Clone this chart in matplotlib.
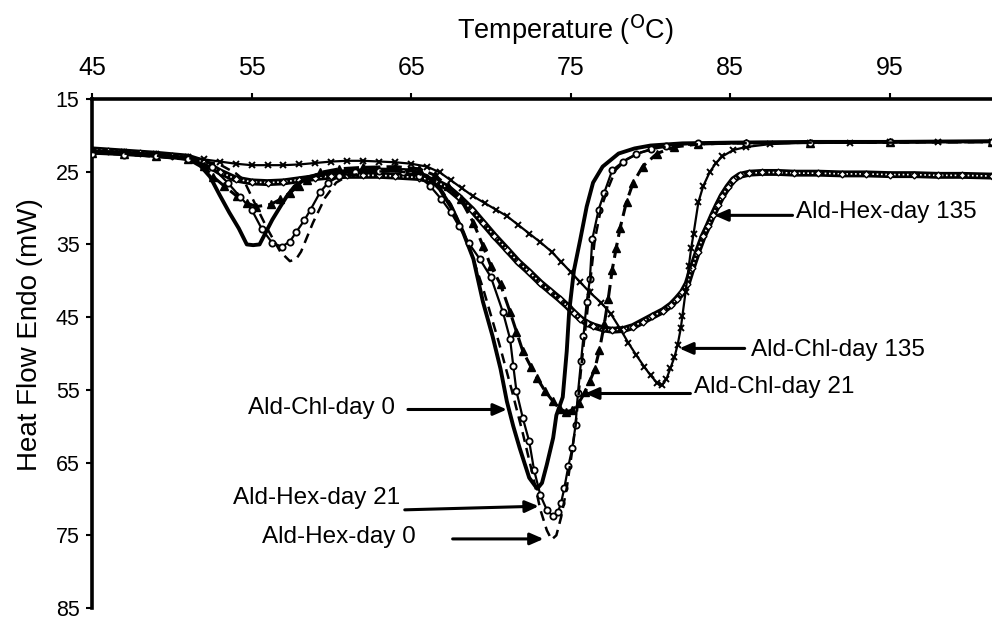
import matplotlib
matplotlib.use("Agg")
import matplotlib.pyplot as plt

plt.rcParams['font.family'] = ['Liberation Sans', 'DejaVu Sans']

# ---------------- data ----------------
chl0_x = [45, 47, 49, 51, 51.8, 52.4, 53.0, 53.6, 54.2, 54.7, 55.1, 55.5, 55.9, 56.3, 56.8, 57.2, 57.7,
          58.5, 59.5, 61, 63, 65, 66, 66.8, 67.6, 68.25, 68.9, 69.5, 70.1, 70.6, 71.0, 71.4, 71.8, 72.4,
          72.9, 73.2, 73.5, 73.9, 74.1, 74.5, 74.75, 74.9, 75.2, 75.6, 76.0, 76.4, 77.0, 78.0, 79.0, 80,
          82, 85, 90, 95, 101.4]
chl0_y = [22.2, 22.4, 22.7, 23.2, 24.2, 25.7, 28.2, 30.6, 32.8, 35.0, 35.1, 35.0, 33.3, 31.6, 29.8, 28.4, 27.0,
          25.8, 25.2, 24.9, 24.7, 24.8, 25.6, 27.4, 30.2, 33.3, 37.0, 42.9, 47.6, 52.1, 56.6, 60.0, 63.0, 67.1,
          68.6, 67.8, 65.3, 61.6, 58.5, 56.0, 49.7, 44.3, 38.6, 34.3, 29.8, 26.5, 24.3, 22.5, 21.8, 21.4,
          21.1, 21.0, 20.9, 20.9, 20.8]

hex21_x = [45, 47, 49, 51, 52.5, 53.5, 54.3, 55.0, 55.65, 56.3, 56.9, 57.4, 57.8, 58.3, 58.7, 59.3, 59.8,
           60.5, 61.5, 63, 64.5, 65.5, 66.2, 66.9, 67.5, 68.0, 68.6, 69.3, 70.0, 70.75, 71.2, 71.4, 71.6,
           72.0, 72.4, 72.7, 73.1, 73.5, 73.9, 74.2, 74.4, 74.6, 74.85, 75.1, 75.3, 75.45, 75.65, 75.8,
           76.0, 76.2, 76.35, 76.75, 77.1, 77.6, 78.3, 79.1, 80, 81, 83, 86, 90, 95, 101.4]
hex21_y = [22.5, 22.7, 22.9, 23.2, 24.3, 26.5, 28.5, 30.2, 32.9, 34.8, 35.3, 34.6, 33.3, 31.7, 30.2, 27.8, 26.5,
           25.6, 25.1, 24.9, 25.0, 25.6, 27.0, 28.8, 30.6, 32.5, 34.8, 37.0, 39.5, 44.3, 48.0, 51.7, 55.2,
           58.9, 62.1, 66.0, 69.5, 71.5, 72.4, 71.8, 70.5, 68.5, 65.5, 63.0, 59.9, 55.5, 51.0, 47.6,
           42.9, 39.8, 34.3, 30.2, 27.9, 24.8, 23.6, 22.6, 21.9, 21.4, 21.1, 21.0, 21.0, 20.9, 20.9]

hex0_x = [45, 47, 49, 51, 53, 54.0, 54.5, 55.3, 56.0, 56.8, 57.4, 57.8, 58.1, 58.85, 59.6, 60.3, 61, 62.5,
          64, 65.5, 66.5, 67.5, 68.5, 69.5, 70.5, 71.3, 72.0, 72.6, 73.1, 73.5, 73.8, 74.1, 74.4, 74.75,
          75.05, 75.3, 75.5, 75.7, 75.9, 76.1, 76.3, 76.5, 76.9, 77.3, 77.8, 78.5, 79.3, 80.5, 82, 85, 90,
          95, 101.4]
hex0_y = [22.3, 22.5, 22.8, 23.1, 24.0, 25.2, 26.1, 29.8, 32.9, 36.0, 37.3, 37.0, 36.0, 32.0, 28.6, 26.5, 25.6, 25.0,
          24.9, 25.3, 26.2, 29.5, 34.5, 41.0, 48.5, 55.0, 61.0, 66.5, 71.5, 74.3, 75.6, 75.0, 72.5, 68.5,
          64.0, 60.0, 55.5, 51.0, 47.0, 43.0, 38.5, 34.5, 30.0, 27.5, 24.8, 23.3, 22.4, 21.7, 21.3, 21.1, 21.0,
          21.0, 20.9]

chl21_x = [45, 47, 49, 51, 52, 52.6, 53.3, 54.1, 54.7, 55.3, 56.2, 56.8, 57.4, 58.0, 58.5, 59.3, 60.5, 62,
           64, 65.5, 66.5, 67.3, 68.1, 68.9, 69.5, 70.0, 70.6, 71.2, 71.6, 72.0, 72.5, 72.9, 73.4, 73.9,
           74.3, 74.7, 75.1, 75.5, 75.9, 76.2, 76.5, 76.8, 77.1, 77.35, 77.6, 77.85, 78.1, 78.5, 78.9,
           79.5, 80.4, 81.5, 83, 86, 90, 95, 101.4]
chl21_y = [22.4, 22.6, 22.9, 23.3, 24.2, 25.7, 27.0, 28.4, 29.3, 29.8, 29.5, 28.8, 27.9, 26.9, 26.1, 25.1, 24.6, 24.4,
           24.3, 24.6, 25.5, 27.0, 28.8, 32.0, 35.2, 38.0, 40.5, 44.3, 47.0, 49.7, 51.8, 53.4, 55.2, 56.6,
           57.6, 58.0, 57.8, 56.8, 55.3, 53.8, 52.2, 49.5, 46.0, 42.5, 38.5, 35.5, 32.7, 29.1, 26.6,
           24.3, 22.5, 21.6, 21.2, 21.0, 21.0, 20.9, 20.9]

chl135_x = [45, 47, 49, 51, 52, 53, 54, 55, 56, 57, 58, 59, 60, 61, 62, 63, 64, 65, 66, 66.8, 67.5, 68.2,
            68.9, 69.6, 70.3, 71.0, 71.7, 72.4, 73.1, 73.8, 74.4, 75.0, 75.6, 76.2, 76.9, 77.5, 78.1, 78.6,
            79.1, 79.6, 80.0, 80.4, 80.7, 81.0, 81.25, 81.5, 81.7, 81.9, 82.0, 82.2, 82.4, 82.55, 82.7,
            83.0, 83.3, 83.7, 84.1, 84.5, 85.2, 86, 87.5, 90, 92.5, 95, 98, 101.4]
chl135_y = [22.1, 22.3, 22.6, 23.0, 23.3, 23.6, 23.9, 24.1, 24.1, 24.1, 24.0, 23.8, 23.6, 23.5, 23.5, 23.6, 23.7, 23.9, 24.3, 25.1, 26.2, 27.3,
            28.4, 29.3, 30.2, 31.1, 32.3, 33.5, 34.7, 36.0, 37.4, 38.8, 40.2, 41.6, 43.0, 44.5, 46.6, 48.5,
            50.2, 51.8, 53.0, 54.0, 54.4, 53.5, 52.0, 50.5, 48.8, 46.5, 44.8, 41.5, 38.0, 35.5, 33.5,
            29.2, 27.0, 25.1, 23.8, 22.9, 22.0, 21.6, 21.2, 21.0, 21.0, 20.9, 20.9, 20.9]

hex135_x = [45, 46, 47, 48, 49, 50, 51, 52, 53, 54, 55, 56, 57, 58, 59, 60, 61, 62, 63, 64, 65.5, 66.5, 67.3,
            68, 68.8, 69.5, 70.2, 71.0, 71.7, 72.4, 73.1, 73.7, 74.3, 74.8, 75.2, 75.6, 76.0, 76.4, 77.0,
            77.6, 78.3, 78.9, 79.5, 80.1, 80.8, 81.3, 81.65, 82.0, 82.3, 82.6, 82.95, 83.3, 83.6, 83.9,
            84.2, 84.5, 84.85, 85.2, 85.6, 86.2, 87, 88, 89, 90.5, 92, 93.5, 95, 96.5, 98, 99.5, 101.4]
hex135_y = [22.0, 22.15, 22.3, 22.45, 22.6, 22.8, 23.0, 23.7, 25.0, 26.0, 26.4, 26.5, 26.4, 26.1, 25.8, 25.6, 25.5, 25.5, 25.5, 25.6, 25.8, 26.3, 27.2,
            28.5, 30.2, 32.0, 33.8, 35.7, 37.4, 38.8, 40.3, 41.4, 42.5, 43.5, 44.4, 45.2, 45.8, 46.2, 46.6,
            46.8, 46.7, 46.3, 45.6, 44.9, 44.1, 43.3, 42.5, 41.6, 40.4, 38.3, 36.0, 33.9, 32.5, 31.0,
            29.6, 28.3, 27.1, 26.1, 25.5, 25.2, 25.1, 25.1, 25.2, 25.2, 25.3, 25.3, 25.4, 25.4, 25.5, 25.5, 25.6]

x_ticks = [45, 55, 65, 75, 85, 95]
y_ticks = [15, 25, 35, 45, 55, 65, 75, 85]

labels = ["Ald-Hex-day 135", "Ald-Chl-day 135", "Ald-Chl-day 21",
          "Ald-Chl-day 0", "Ald-Hex-day 21", "Ald-Hex-day 0"]

# ---------------- figure ----------------
W, H = 992, 622
fig = plt.figure(figsize=(W / 100, H / 100), dpi=100)
ax = fig.add_axes([92 / W, 1 - 608 / H, 1 - 92 / W, (608 - 99) / H])
ax.set_xlim(45, 101.4)
ax.set_ylim(85, 15)

k = 'black'
# Ald-Hex-day 135: band of open diamonds
ax.plot(hex135_x, hex135_y, color=k, lw=5.0, solid_capstyle='round', zorder=2)
ax.plot(hex135_x, hex135_y, color='white', lw=1.2, ls=(0, (1, 1.6)), zorder=2.1)
ax.plot(hex135_x, hex135_y, ls='none', marker='D', ms=3.5, mfc='white', mec=k, mew=1.0, zorder=2.2)
# Ald-Chl-day 135: zigzag markers
ax.plot(chl135_x, chl135_y, color=k, lw=1.6, marker='x', ms=5, mew=1.4, zorder=3)
# Ald-Chl-day 21: dashed with triangles
ax.plot(chl21_x, chl21_y, color=k, lw=2.2, ls=(0, (5, 2)), marker='^', ms=5.5, zorder=3)
# Ald-Chl-day 0: solid
ax.plot(chl0_x, chl0_y, color=k, lw=2.8, zorder=4)
# Ald-Hex-day 21: circles
ax.plot(hex21_x, hex21_y, color=k, lw=1.6, marker='o', ms=4.5, mfc='white', mec=k, mew=1.3, zorder=4)
# Ald-Hex-day 0: dashed
ax.plot(hex0_x, hex0_y, color=k, lw=1.8, ls=(0, (4, 2.5)), zorder=4)

# axes styling
for s in ['right', 'bottom']:
    ax.spines[s].set_visible(False)
for s in ['top', 'left']:
    ax.spines[s].set_linewidth(2.6)
ax.xaxis.tick_top()
ax.set_xticks(x_ticks)
ax.set_yticks(y_ticks)
ax.tick_params(axis='x', direction='out', length=4, width=1.5, pad=10, labelsize=18)
ax.tick_params(axis='y', direction='out', length=4, width=1.5, pad=5, labelsize=15.5)

fig.text(565 / W, 1 - 30 / H, 'Temperature ($^{\\mathrm{O}}$C)', ha='center', va='center', fontsize=19.5)
fig.text(30 / W, 1 - 335 / H, 'Heat Flow Endo (mW)', ha='center', va='center', rotation=90, fontsize=20)

# annotations: (label, tip, tail, text pos, ha)
ann = [
    (labels[0], (84.0, 31.0), (88.9, 31.0), (89.1, 30.6), 'left'),
    (labels[1], (81.8, 49.3), (85.9, 49.3), (86.3, 49.5), 'left'),
    (labels[2], (75.9, 55.5), (82.5, 55.5), (82.75, 54.6), 'left'),
    (labels[3], (71.0, 57.7), (64.8, 57.7), (64.0, 57.5), 'right'),
    (labels[4], (73.0, 71.0), (64.6, 71.5), (64.3, 69.9), 'right'),
    (labels[5], (73.3, 75.5), (67.6, 75.5), (65.3, 75.3), 'right'),
]
for lab, tip, tail, tpos, ha in ann:
    ax.annotate('', xy=tip, xytext=tail,
                arrowprops=dict(arrowstyle='-|>,head_length=0.8,head_width=0.35', color=k, lw=2.2,
                                shrinkA=0, shrinkB=0), zorder=6)
    ax.text(tpos[0], tpos[1], lab, ha=ha, va='center', fontsize=17.5, zorder=6)

fig.savefig('out.png', dpi=100)
